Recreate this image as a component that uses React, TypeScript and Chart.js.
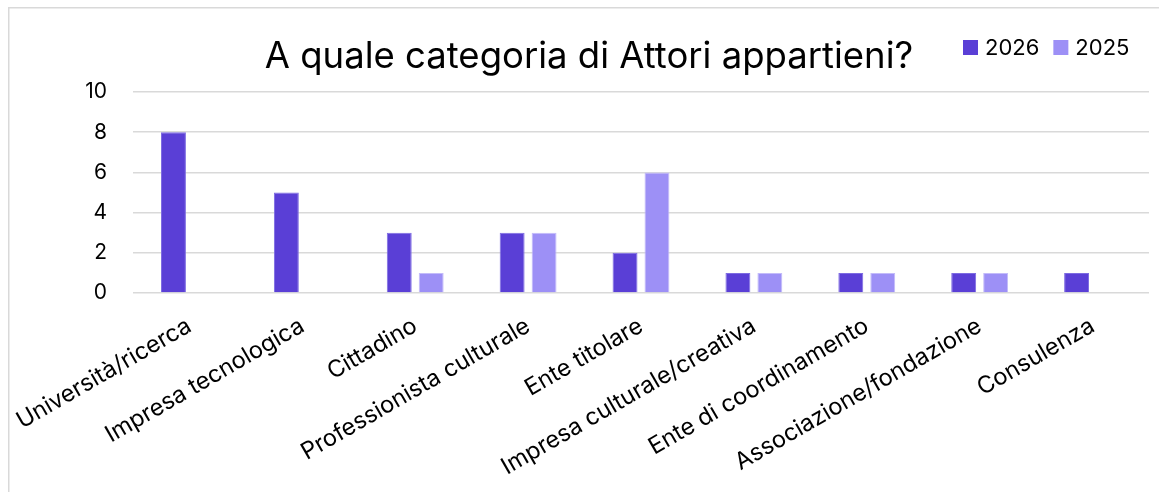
import React, { useEffect, useRef } from 'react';
import { Chart, registerables } from 'chart.js';

Chart.register(...registerables);

const categories = [
  'Università/ricerca',
  'Impresa tecnologica',
  'Cittadino',
  'Professionista culturale',
  'Ente titolare',
  'Impresa culturale/creativa',
  'Ente di coordinamento',
  'Associazione/fondazione',
  'Consulenza',
];
const values2026 = [8, 5, 3, 3, 2, 1, 1, 1, 1];
const values2025 = [null, null, 1, 3, 6, 1, 1, 1, null];
const seriesLabels = ['2026', '2025'];
const yTicks = [0, 2, 4, 6, 8, 10];
const chartTitle = 'A quale categoria di Attori appartieni?';

const FONT = 'Inter, "Noto Sans", sans-serif';
const W = 1160;
const H = 500;

export default function App() {
  const ref = useRef<HTMLCanvasElement | null>(null);

  useEffect(() => {
    const canvas = ref.current;
    if (!canvas) return;

    const decor = {
      id: 'decor',
      beforeDraw(chart: any) {
        const ctx = chart.ctx;
        ctx.save();
        ctx.fillStyle = '#ffffff';
        ctx.fillRect(0, 0, chart.width, chart.height);
        ctx.strokeStyle = '#d9d9d9';
        ctx.lineWidth = 1.5;
        ctx.strokeRect(0.75, 0.75, chart.width + 20, chart.height + 20);
        ctx.restore();
      },
      afterDraw(chart: any) {
        const ctx = chart.ctx;
        ctx.save();
        ctx.fillStyle = '#000000';
        ctx.font = `36.5px ${FONT}`;
        ctx.textAlign = 'center';
        ctx.textBaseline = 'alphabetic';
        ctx.fillText(chartTitle, chart.width / 2 + 1, 61);

        // legend
        ctx.font = `22px ${FONT}`;
        ctx.textAlign = 'left';
        ctx.textBaseline = 'middle';
        let x = 955;
        const boxY = 33;
        chart.data.datasets.forEach((ds: any) => {
          ctx.fillStyle = ds.backgroundColor;
          ctx.fillRect(x, boxY, 15, 15);
          ctx.fillStyle = '#000000';
          ctx.fillText(ds.label, x + 22, boxY + 8);
          x += 22 + ctx.measureText(ds.label).width + 14;
        });
        ctx.restore();
      },
    };

    const chart = new Chart(canvas, {
      type: 'bar',
      data: {
        labels: categories,
        datasets: [
          {
            label: seriesLabels[0],
            data: values2026,
            backgroundColor: '#5A3FD6',
            borderColor: '#7D6BE2',
            borderWidth: 1,
            categoryPercentage: 0.566,
            barPercentage: 0.78,
          },
          {
            label: seriesLabels[1],
            data: values2025,
            backgroundColor: '#9D90F6',
            borderColor: '#C3BBFA',
            borderWidth: 1,
            categoryPercentage: 0.566,
            barPercentage: 0.78,
          },
        ],
      },
      options: {
        responsive: false,
        animation: false,
        layout: { padding: { top: 85, right: 19, left: 0, bottom: 0 } },
        plugins: {
          legend: { display: false },
          title: { display: false },
          tooltip: { enabled: false },
        },
        scales: {
          x: {
            grid: { display: false, drawTicks: false },
            border: { display: false },
            ticks: {
              autoSkip: false,
              minRotation: 30,
              maxRotation: 30,
              padding: 19,
              color: '#000000',
              font: { family: FONT, size: 23.5 },
            },
            afterFit(scale: any) {
              scale.height = 214;
              scale.paddingLeft = 0;
              scale.paddingRight = 0;
            },
          },
          y: {
            min: 0,
            max: 10,
            afterBuildTicks(scale: any) {
              scale.ticks = yTicks.map((v) => ({ value: v }));
            },
            grid: { color: '#d9d9d9', lineWidth: 1.5, drawTicks: false },
            border: { display: false },
            ticks: {
              padding: 26,
              color: '#000000',
              font: { family: FONT, size: 21 },
            },
            afterFit(scale: any) {
              scale.width = 125;
              scale.paddingTop = 0;
              scale.paddingBottom = 0;
            },
          },
        },
      },
      plugins: [decor],
    });

    return () => chart.destroy();
  }, []);

  return (
    <div style={{ position: 'absolute', left: 8, top: 7, width: W, height: H }}>
      <canvas ref={ref} width={W} height={H} />
    </div>
  );
}
